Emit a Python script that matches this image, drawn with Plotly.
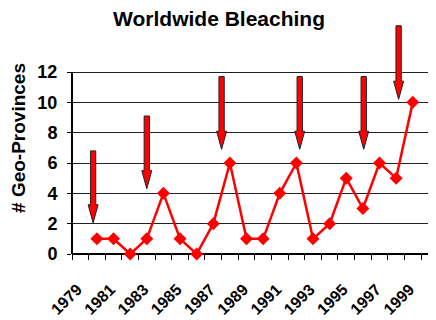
import plotly.graph_objects as go

years = [1980, 1981, 1982, 1983, 1984, 1985, 1986, 1987, 1988, 1989,
         1990, 1991, 1992, 1993, 1994, 1995, 1996, 1997, 1998, 1999]
provinces = [1, 1, 0, 1, 4, 1, 0, 2, 6, 1, 1, 4, 6, 1, 2, 5, 3, 6, 5, 10]

tick_years = [1979, 1981, 1983, 1985, 1987, 1989, 1991, 1993, 1995, 1997, 1999]
tick_labels = [str(y) for y in tick_years]
category_years = list(range(1979, 2002))

arrow_x = [1979.77, 1983.0, 1987.5, 1992.2, 1996.05, 1998.15]
arrow_top = [6.8, 9.1, 11.7, 11.7, 11.7, 15.05]
arrow_tip = [2.05, 4.3, 6.9, 6.9, 6.9, 10.2]

y_ticks = [0, 2, 4, 6, 8, 10, 12]

FONT = "Arial, Liberation Sans, sans-serif"

fig = go.Figure()
fig.add_trace(go.Scatter(
    x=years, y=provinces, mode="lines+markers",
    line=dict(color="#ff0000", width=2.5),
    marker=dict(symbol="diamond", size=10, color="#ff0000"),
    cliponaxis=False, showlegend=False,
))

shaft_hw = 0.16
head_hw = 0.30
head_len = 1.2
shapes = []
for x, top, tip in zip(arrow_x, arrow_top, arrow_tip):
    hb = tip + head_len
    path = (f"M {x - shaft_hw} {top} L {x + shaft_hw} {top} L {x + shaft_hw} {hb} "
            f"L {x + head_hw} {hb} L {x} {tip} L {x - head_hw} {hb} L {x - shaft_hw} {hb} Z")
    shapes.append(dict(type="path", xref="x", yref="y", path=path,
                       fillcolor="#ff0000", line=dict(color="#222222", width=1),
                       layer="above"))

# y-axis line from 0 to 12
shapes.append(dict(type="line", xref="paper", yref="y", x0=0, x1=0,
                   y0=y_ticks[0], y1=y_ticks[-1], line=dict(color="black", width=2),
                   layer="above"))

fig.update_layout(
    width=436, height=320,
    margin=dict(l=64, r=0, t=14, b=74),
    paper_bgcolor="white", plot_bgcolor="white",
    title=dict(text="Worldwide Bleaching", x=0.484, xanchor="center",
               y=0.966, yanchor="middle",
               font=dict(family=FONT, size=21, color="black", weight="bold")),
    shapes=shapes,
    xaxis=dict(
        range=[1978.5, 2000.88], automargin=False,
        tickmode="array", tickvals=tick_years, ticktext=tick_labels,
        tickangle=-45, ticks="", showgrid=False, zeroline=False,
        ticklabelstandoff=22, ticklabelshift=-3,
        tickfont=dict(family=FONT, size=16, color="black", weight="bold"),
        showline=False,
        minor=dict(tickmode="array", tickvals=[y - 0.5 for y in category_years],
                   ticks="outside", ticklen=5, tickcolor="black", tickwidth=1, showgrid=False),
    ),
    yaxis=dict(
        range=[0, 15.3], automargin=False,
        tickmode="array", tickvals=y_ticks,
        ticks="outside", ticklen=4, tickcolor="black", tickwidth=1,
        ticklabelstandoff=6,
        showgrid=True, gridcolor="#222222", gridwidth=1.3,
        zeroline=True, zerolinecolor="black", zerolinewidth=2,
        showline=False,
        tickfont=dict(family=FONT, size=18, color="black", weight="bold"),
        title=dict(text="# Geo-Provinces", standoff=12,
                   font=dict(family=FONT, size=19, color="black", weight="bold")),
    ),
)

fig.write_html("out.html")
